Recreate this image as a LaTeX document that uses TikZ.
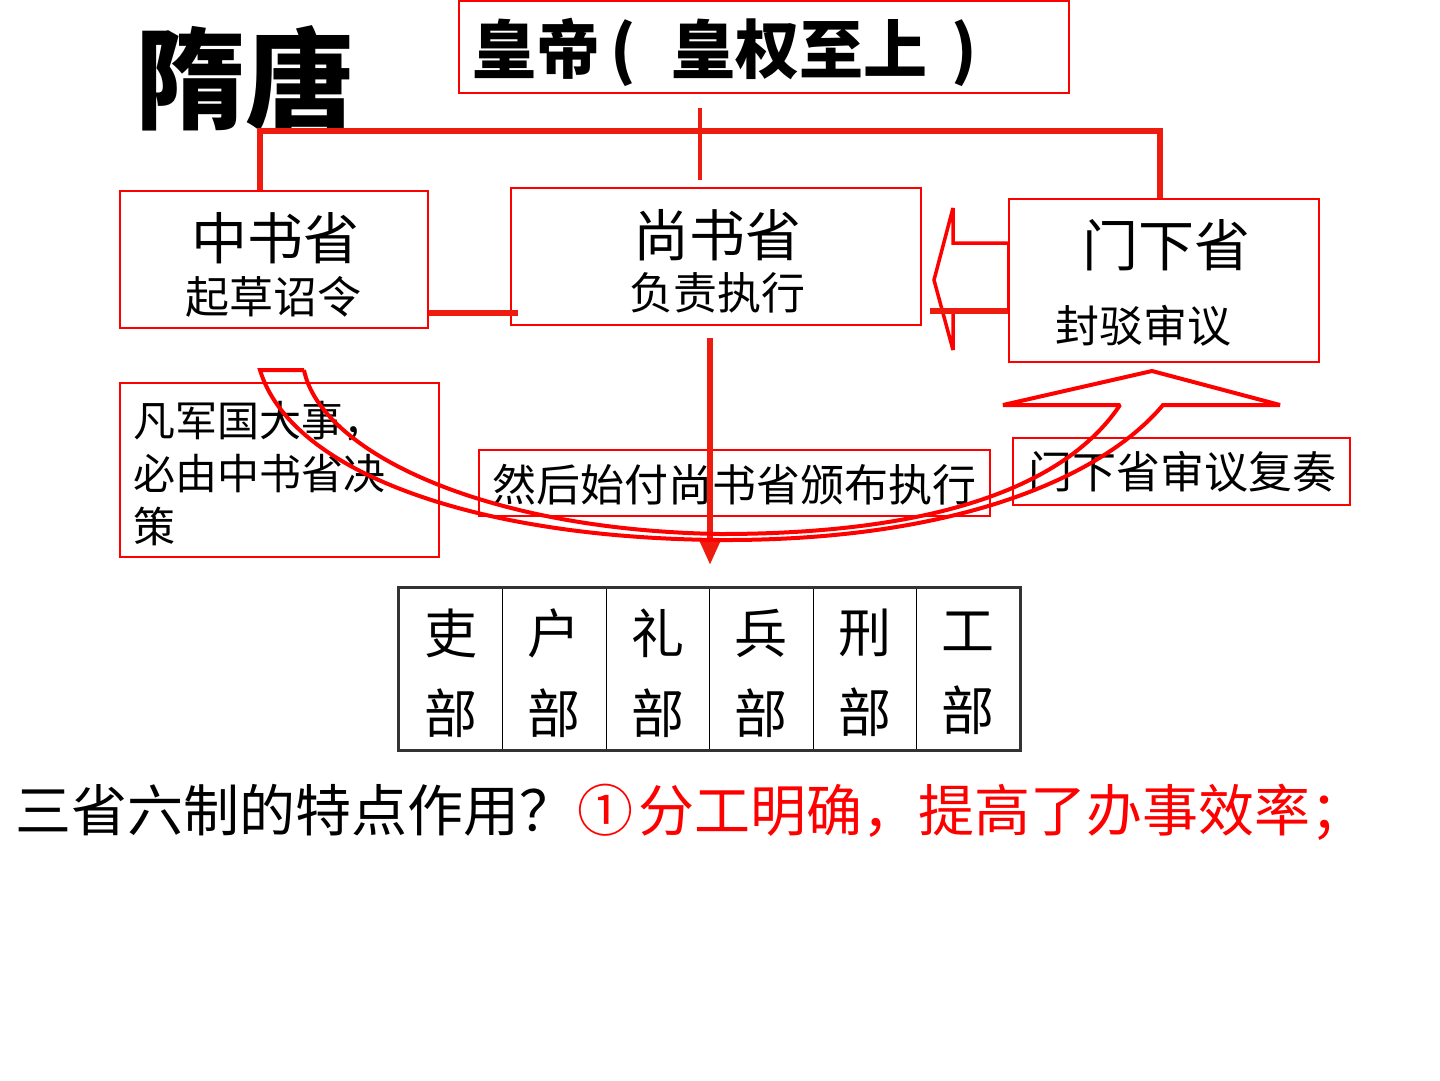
\documentclass[tikz,border=0pt]{standalone}
\usepackage{fontspec}
\setmainfont{Noto Sans CJK SC}
\usetikzlibrary{arrows.meta}
\definecolor{lred}{RGB}{255,0,0}
\definecolor{tred}{RGB}{238,28,14}
\newcommand{\myfs}[1]{\fontsize{#1pt}{#1pt}\selectfont}
\begin{document}
\begin{tikzpicture}[x=1pt,y=-1pt,
  box/.style={draw=lred,line width=1.2pt,inner sep=0pt,rectangle},
  lbl/.style={inner sep=0pt,text=black},
  conn/.style={draw=tred,line width=6pt,line join=miter},
  band/.style={draw=lred,line width=4pt,line join=miter,miter limit=2},
  cell/.style={draw=black,line width=1pt,inner sep=0pt,minimum width=103.5,minimum height=162}]
\fill[white] (0,0) rectangle (1440,1080);
\useasboundingbox (0,0) rectangle (1440,1080);

% title
\node[lbl,font=\myfs{110}\bfseries] (title) at (245,78) {隋唐};
% emperor
\node[box,minimum width=610,minimum height=92] (emp) at (764,47) {};
\node[lbl,anchor=west,font=\myfs{64}\bfseries] (empt) at (472,52) {皇帝\hspace{10pt}(\hspace{36pt}皇权至上\hspace{24pt})};

% three departments
\node[box,minimum width=308,minimum height=137] (zs) at (274,259.5) {};
\node[lbl,font=\myfs{56}] (zs1) at (275,238) {中书省};
\node[lbl,font=\myfs{44}] (zs2) at (273,297) {起草诏令};

\node[box,minimum width=410,minimum height=137] (ss) at (716,256.5) {};
\node[lbl,font=\myfs{56}] (ss1) at (717,235) {尚书省};
\node[lbl,font=\myfs{44}] (ss2) at (717,293) {负责执行};

\node[box,minimum width=310,minimum height=163] (mx) at (1164,280.5) {};
\node[lbl,font=\myfs{56}] (mx1) at (1166,245) {门下省};
\node[lbl,font=\myfs{44}] (mx2) at (1143,326) {封驳审议};

% notes
\node[box,minimum width=319,minimum height=174] (n1) at (279.5,470) {};
\node[lbl,anchor=west,align=left,font=\fontsize{42pt}{53pt}\selectfont] (n1t) at (133,474) {凡军国大事，\\必由中书省决\\策};
\node[box,minimum width=511,minimum height=66] (n2) at (734.5,483) {};
\node[lbl,font=\myfs{44}] (n2t) at (734,485) {然后始付尚书省颁布执行};
\node[box,minimum width=337,minimum height=67] (n3) at (1181.5,471.5) {};
\node[lbl,font=\myfs{44}] (n3t) at (1182,472) {门下省审议复奏};

% six ministries table
\foreach \ch [count=\i] in {吏,户,礼,兵,刑,工}{
  \node[cell] (c\i) at ({399+103.5*(\i-0.5)},669) {};
  \node[lbl,align=center,font=\fontsize{53pt}{80pt}\selectfont] (t\i) at ([yshift=-4pt]c\i.center) {\ch\\部};
}
\draw[line width=2.2pt,draw=black!80] (c1.north west) rectangle (c6.south east);

% question
\node[lbl,anchor=west,font=\myfs{56}] (q) at (15,812) {三省六制的特点作用\makebox[58pt][l]{？}{\color{lred}①\hspace{5pt}分工明确，提高了办事效率；}};

% connectors from emperor
\coordinate (busL) at (260,131);
\coordinate (busR) at (1160,131);
\draw[conn] (busL |- zs.north) -- (busL) -- (busR) -- (busR |- mx.north);
\coordinate (eTop) at (700,108);
\coordinate (eBot) at (700,180);
\draw[conn,line width=4pt] (eTop) -- (eBot);

% zhongshu - shangshu link
\coordinate (r313) at (0,313);
\draw[conn] (zs.east |- r313) -- ([xshift=8pt]ss.west |- r313);

% menxia -> shangshu block arrow
\coordinate (r243) at (0,243);
\coordinate (r311) at (0,311);
\draw[draw=lred,line width=3.5pt,line join=miter,miter limit=2] (mx.west |- r243) -- (953,243) -- (953,208) -- (934,280) -- (953,350) -- (953,311);
\draw[conn] (930,311) -- (mx.west |- r311);
\draw[draw=lred,line width=3pt] (mx.west |- r243) -- (mx.west |- r311);

% down arrow to six ministries
\coordinate (dStart) at (710,338);
\coordinate (dEnd) at (710,565);
\draw[tred,line width=6pt,-{Triangle[width=21pt,length=26pt]}] (dStart) -- (dEnd);

% curved band arrow from zhongshu to menxia
\draw[band] (304,370) -- (260,370)
  .. controls (290,470) and (470,538) .. (720,540)
  .. controls (950,541) and (1100,480) .. (1163,405)
  -- (1280,405) -- (1152,371) -- (1003,405) -- (1120,405)
  .. controls (1070,480) and (950,534) .. (720,534)
  .. controls (480,530) and (320,450) .. (304,370);
\end{tikzpicture}
\end{document}
